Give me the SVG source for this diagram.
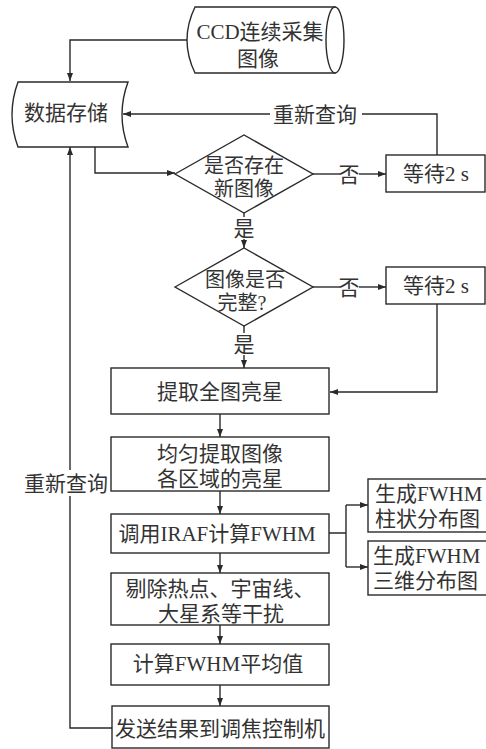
<svg xmlns="http://www.w3.org/2000/svg" width="486" height="749" viewBox="0 0 486 749">
<style>
.s{fill:#fff;stroke:#2a2a2a;stroke-width:1.4}
.c{fill:none;stroke:#2a2a2a;stroke-width:1.4}
text{font-family:"Liberation Serif","Noto Sans CJK SC",serif;font-size:21px;fill:#333}
.m{text-anchor:middle}
.d{font-size:20px}
</style>
<defs>
<marker id="a" viewBox="0 0 8 6" refX="8" refY="3" markerWidth="8" markerHeight="6" markerUnits="userSpaceOnUse" orient="auto">
<path d="M0,0 L8,3 L0,6 Z" fill="#2a2a2a"/>
</marker>
</defs>
<rect width="486" height="749" fill="#fff"/>
<g id="connectors">
<path class="c" d="M187,40 H70 V81" marker-end="url(#a)"/>
<path class="c" d="M95,147 V173 H175" marker-end="url(#a)"/>
<path class="c" d="M313,174 H340"/>
<path class="c" d="M359,174 H386" marker-end="url(#a)"/>
<path class="c" d="M437,155 V114 H362"/>
<path class="c" d="M270,114 H123" marker-end="url(#a)"/>
<path class="c" d="M244,213 V217"/>
<path class="c" d="M244,239 V248" marker-end="url(#a)"/>
<path class="c" d="M313,287 H340"/>
<path class="c" d="M359,287 H386" marker-end="url(#a)"/>
<path class="c" d="M244,326 V333"/>
<path class="c" d="M244,355 V368" marker-end="url(#a)"/>
<path class="c" d="M437,304 V392 H330" marker-end="url(#a)"/>
<path class="c" d="M220,414 V437" marker-end="url(#a)"/>
<path class="c" d="M220,491 V514" marker-end="url(#a)"/>
<path class="c" d="M220,553 V573" marker-end="url(#a)"/>
<path class="c" d="M220,625 V644" marker-end="url(#a)"/>
<path class="c" d="M220,685 V706" marker-end="url(#a)"/>
<path class="c" d="M329,533 H346 M346,505 V567"/>
<path class="c" d="M346,505 H368" marker-end="url(#a)"/>
<path class="c" d="M346,567 H368" marker-end="url(#a)"/>
<path class="c" d="M112,728 H70 V496"/>
<path class="c" d="M70,470 V147" marker-end="url(#a)"/>
<text class="m" x="349" y="182">否</text>
<text class="m" x="349" y="295">否</text>
<text class="m" x="244" y="236">是</text>
<text class="m" x="244" y="352">是</text>
<text class="m" x="315" y="122">重新查询</text>
<text class="m" x="66" y="491">重新查询</text>
</g>
<g id="ccd">
<path class="s" d="M195,7 H335 V73 H195 Q179,40 195,7 Z"/>
<ellipse class="s" cx="335" cy="40" rx="9" ry="33"/>
<text class="m" x="260" y="39">CCD连续采集</text>
<text class="m" x="258" y="66">图像</text>
</g>
<g id="storage">
<path class="s" d="M18,82 H128 Q116,114.5 128,147 H18 Q6,114.5 18,82 Z"/>
<text class="m" x="66" y="120">数据存储</text>
</g>
<g id="d1">
<polygon class="s" points="175,174 244,135 313,174 244,213"/>
<text class="m d" x="244" y="173">是否存在</text>
<text class="m d" x="244" y="196">新图像</text>
</g>
<g id="w1">
<rect class="s" x="386" y="155" width="99" height="37"/>
<text class="m" x="436" y="181">等待2 s</text>
</g>
<g id="d2">
<polygon class="s" points="175,287 244,248 313,287 244,326"/>
<text class="m d" x="245" y="287">图像是否</text>
<text class="m d" x="242" y="310">完整?</text>
</g>
<g id="w2">
<rect class="s" x="386" y="267" width="99" height="37"/>
<text class="m" x="436" y="293">等待2 s</text>
</g>
<g id="b1">
<rect class="s" x="111" y="368" width="218" height="46"/>
<text class="m" x="220" y="399">提取全图亮星</text>
</g>
<g id="b2">
<rect class="s" x="111" y="437" width="218" height="54"/>
<text class="m" x="220" y="461">均匀提取图像</text>
<text class="m" x="220" y="486">各区域的亮星</text>
</g>
<g id="b3">
<rect class="s" x="111" y="514" width="218" height="39"/>
<text class="m" x="217" y="541">调用IRAF计算FWHM</text>
</g>
<g id="f1">
<rect class="s" x="368" y="479" width="125" height="53"/>
<text x="375" y="501">生成FWHM</text>
<text x="375" y="526">柱状分布图</text>
</g>
<g id="f2">
<rect class="s" x="368" y="541" width="125" height="54"/>
<text x="373" y="563">生成FWHM</text>
<text x="373" y="588">三维分布图</text>
</g>
<g id="b4">
<rect class="s" x="111" y="573" width="218" height="52"/>
<text class="m" x="220" y="596">剔除热点、宇宙线、</text>
<text class="m" x="221" y="621">大星系等干扰</text>
</g>
<g id="b5">
<rect class="s" x="111" y="644" width="218" height="41"/>
<text class="m" x="218" y="671">计算FWHM平均值</text>
</g>
<g id="b6">
<rect class="s" x="112" y="706" width="217" height="42"/>
<text class="m" x="220" y="736">发送结果到调焦控制机</text>
</g>
</svg>
